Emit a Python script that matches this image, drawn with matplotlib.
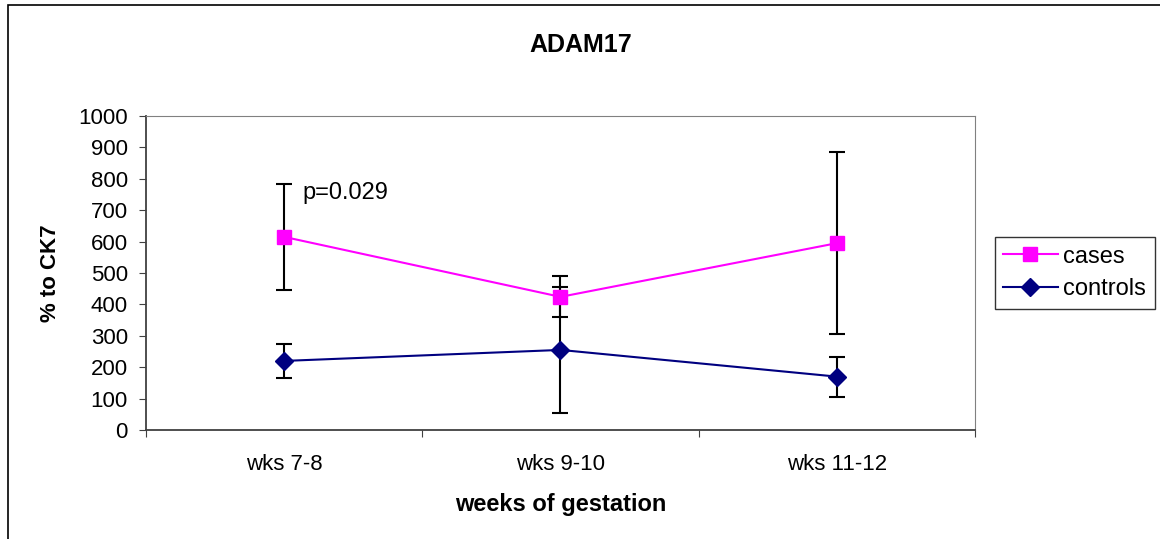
import numpy as np
import matplotlib
matplotlib.use("Agg")
import matplotlib.pyplot as plt

plt.rcParams['font.family'] = ['Liberation Sans', 'DejaVu Sans']

categories = ["wks 7-8", "wks 9-10", "wks 11-12"]
cases = [615, 424, 595]
cases_err = [170, 65, 289]
controls = [220, 255, 170]
controls_err = [55, 200, 64]

W, H = 1160, 539
fig = plt.figure(figsize=(W/100, H/100), dpi=100)
# outer chart border (only left and top visible in the reference)
fig.patches.append(plt.Rectangle((8/W, -0.1), 1.2, 1.1 - 5/H, transform=fig.transFigure,
                                 fill=False, edgecolor='black', linewidth=1.2))
ax = fig.add_axes([146/W, 1 - 430/H, (975-146)/W, (430-116)/H])

x = np.arange(len(categories))
ax.errorbar(x, cases, yerr=cases_err, color='#ff00ff', ecolor='black', elinewidth=1.5,
            capsize=6, capthick=1.5, marker='s', markersize=10, linewidth=1.5,
            label='cases', zorder=3)
ax.errorbar(x, controls, yerr=controls_err, color='#000080', ecolor='black', elinewidth=1.5,
            capsize=6, capthick=1.5, marker='D', markersize=9, linewidth=1.5,
            label='controls', zorder=3)

ax.set_xlim(-0.5, 2.5)
ax.set_ylim(0, 1000)
ax.set_yticks(range(0, 1001, 100))
ax.set_xticks([-0.5, 0.5, 1.5, 2.5])
ax.set_xticklabels([])
ax.set_xticks(x, minor=True)
ax.set_xticklabels(categories, minor=True)
ax.tick_params(axis='x', which='minor', length=0, labelsize=16, pad=17)
ax.tick_params(axis='x', which='major', length=5, direction='out', color='#404040')
ax.tick_params(axis='y', labelsize=16, length=5, direction='out', color='#404040', pad=8)

for side in ['top', 'right']:
    ax.spines[side].set_color('#808080')
for side in ['left', 'bottom']:
    ax.spines[side].set_color('#404040')
    ax.spines[side].set_linewidth(1.3)

ax.text(0.065, 755, "p=0.029", fontsize=17, va='center')

ax.set_ylabel("% to CK7", fontsize=16, fontweight='bold')
ax.yaxis.set_label_coords((50-146)/829, 0.5)
ax.set_xlabel("weeks of gestation", fontsize=17, fontweight='bold')
ax.xaxis.set_label_coords(0.5, (430-505)/314)
ax.xaxis.label.set_va('center')
ax.yaxis.label.set_va('center')
fig.text(581/W, 1 - 45/H, "ADAM17", fontsize=18, fontweight='bold', ha='center', va='center')

handles, labels = ax.get_legend_handles_labels()
h2 = [h[0] for h in handles]
leg = fig.legend(h2, labels, loc='center left', bbox_to_anchor=(995/W, 1 - 273/H), fontsize=17,
                 frameon=True, fancybox=False, edgecolor='black', borderpad=0.35,
                 handlelength=2.3, handletextpad=0.25, labelspacing=0.45, borderaxespad=0)
leg.get_frame().set_linewidth(1)

fig.savefig("out.png", dpi=100)
